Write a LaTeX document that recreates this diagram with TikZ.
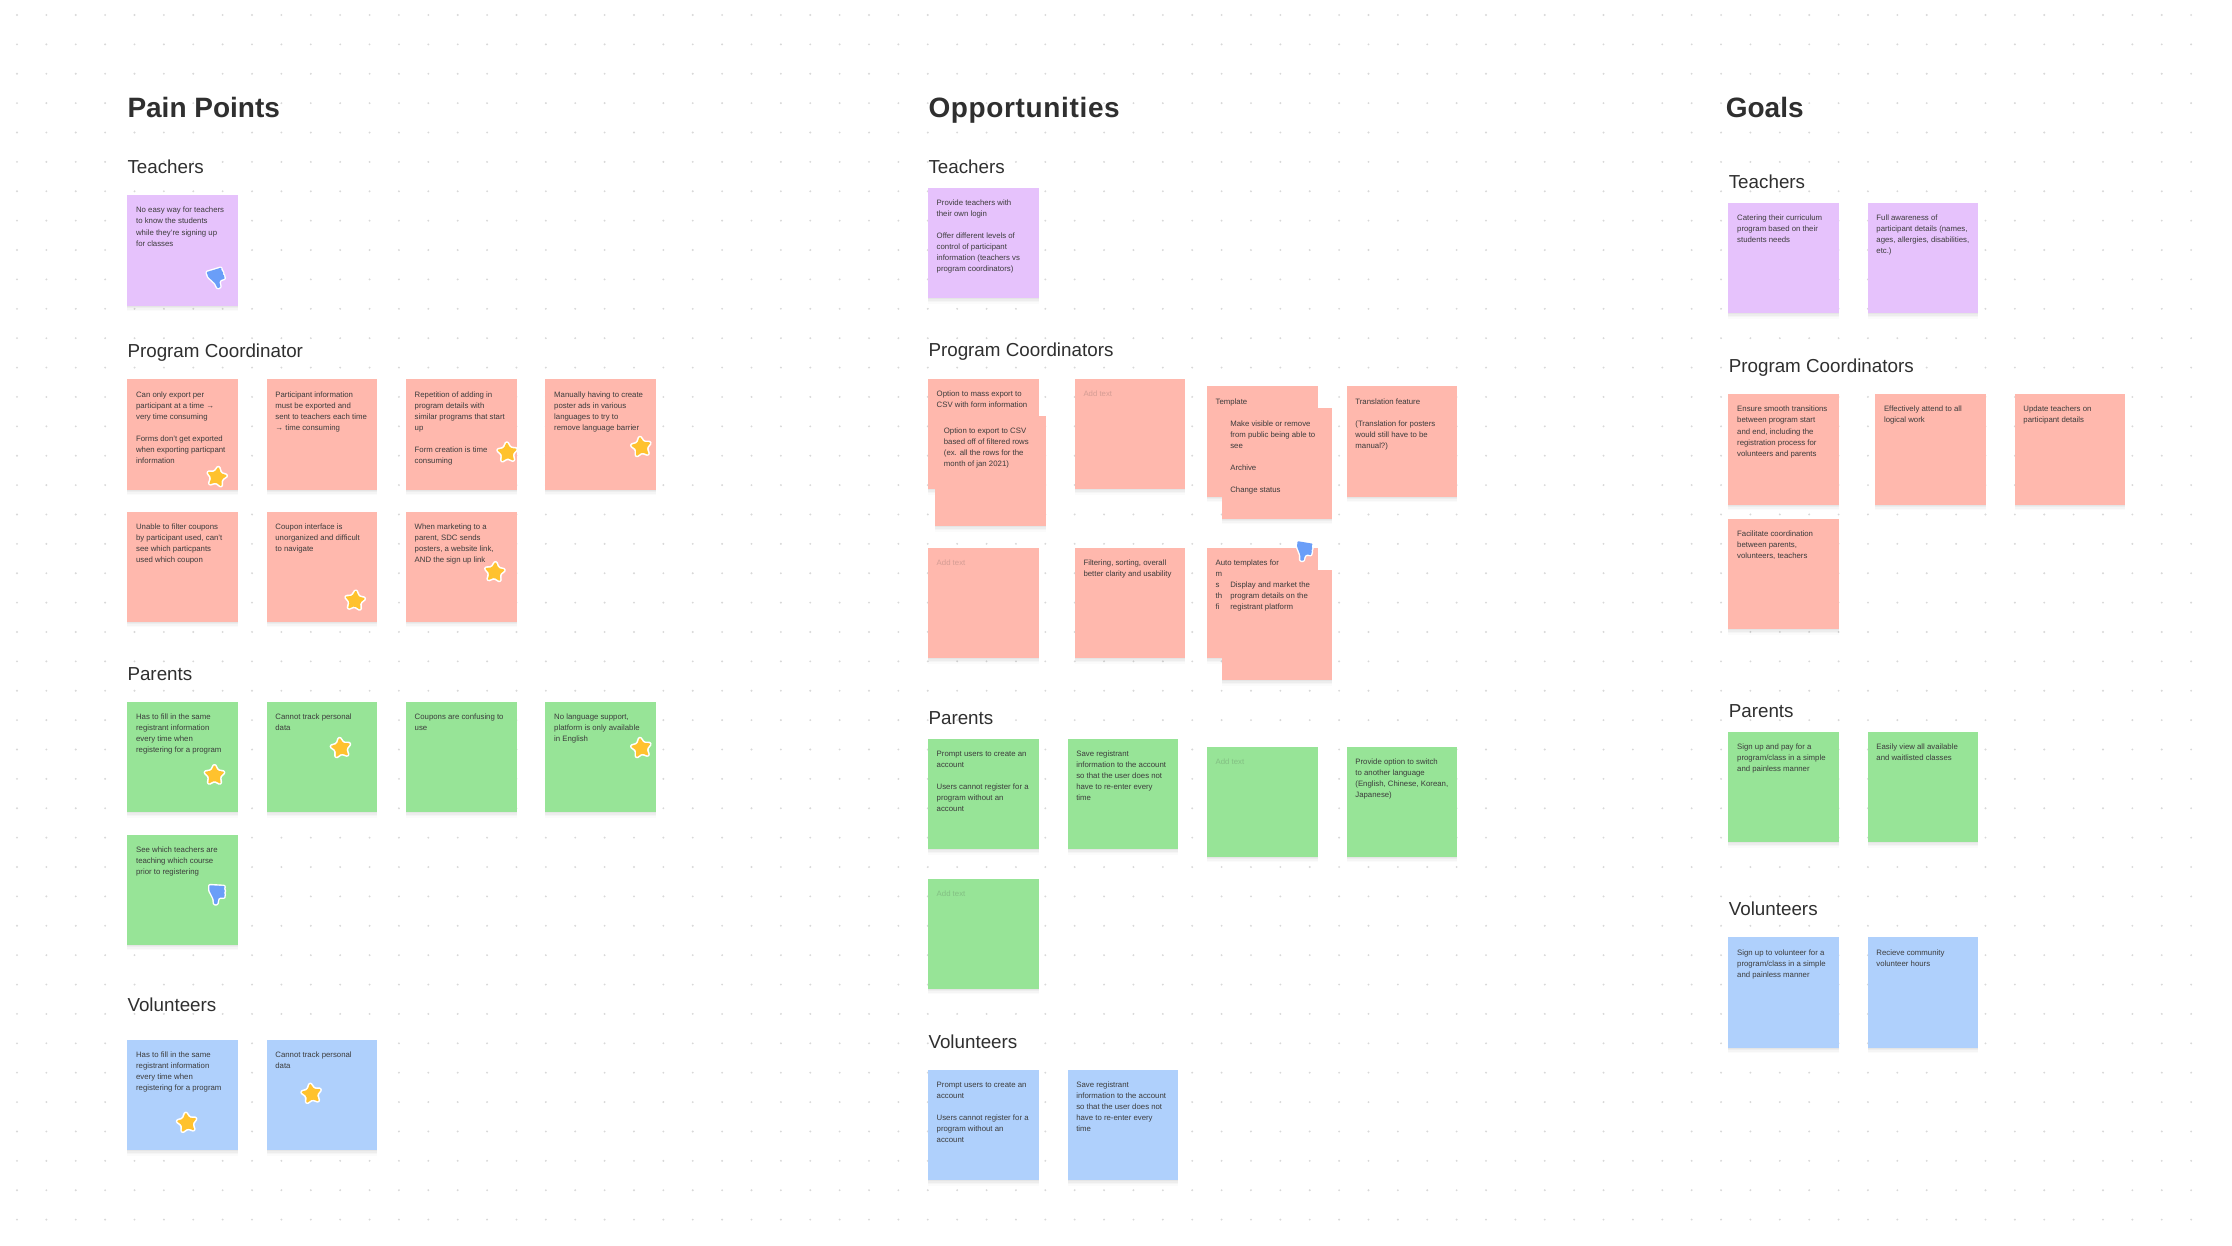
\documentclass[tikz,border=0pt]{standalone}
\usepackage{fontspec}
\setmainfont{Liberation Sans}
\usetikzlibrary{shapes.geometric,shadows}
\definecolor{notepurple}{HTML}{E6C2FC}
\definecolor{notered}{HTML}{FFB8AD}
\definecolor{notegreen}{HTML}{97E497}
\definecolor{noteblue}{HTML}{AFD0FC}
\definecolor{stargold}{HTML}{FFC22E}
\definecolor{thumbblue}{HTML}{6A9EF8}
\definecolor{griddot}{HTML}{D8D8D8}
\definecolor{inkdark}{HTML}{2F2F2F}
\definecolor{inknote}{HTML}{3C3C3C}
\tikzset{
  softshadow/.style={
    general shadow={fill=black,opacity=.03,shadow yshift=-1pt},
    general shadow={fill=black,opacity=.03,shadow yshift=-2.5pt},
    general shadow={fill=black,opacity=.025,shadow yshift=-4pt},
    general shadow={fill=black,opacity=.015,shadow yshift=-5.5pt}},
  note/.style={rectangle,anchor=north west,minimum width=110.7pt,minimum height=110.3pt,inner sep=0pt,outer sep=0pt,softshadow},
  notetext/.style={anchor=north west,inner sep=0pt,outer sep=0pt,align=left,text=inknote,font=\fontsize{7.8}{11.05}\selectfont},
  placeholder/.style={text opacity=.22},
  pagetitle/.style={anchor=base west,inner sep=0pt,text=inkdark,font=\fontsize{28}{32}\selectfont\bfseries},
  grouptitle/.style={anchor=base west,inner sep=0pt,text=inkdark,font=\fontsize{18.8}{22}\selectfont},
  starmark/.style={star,star points=5,star point ratio=1.95,minimum size=21.5pt,inner sep=0pt,fill=stargold,rounded corners=1.3pt,
    preaction={draw=white,line width=3.2pt,line join=round}},
  thumbmark/.pic={
    \path[scale=.88,preaction={draw=white,line width=2.8pt,line join=round},fill=thumbblue,rounded corners=.8pt]
      (-8.4,-10) -- (9,-9) -- (8,-5.5) -- (9.4,-3.5) -- (8,-1) -- (9.4,1) -- (8,2.4) -- (9,4) -- (3,4) -- (1.4,6) -- (0.6,11.5) -- (-3,11.5) -- (-3.6,5.4) -- (-8.4,-4) -- cycle;
  }
}
\newcommand{\sticky}[5]{%
  \node[note,fill=#4] (#1) at (#2,#3) {};
  \node[notetext] (#1t) at ([xshift=8.8pt,yshift=-9.7pt]#1.north west) {\rule{0pt}{8pt}#5};}
\newcommand{\blankline}{\\~\\}
\begin{document}
\begin{tikzpicture}[x=1pt,y=-1pt]
\fill[white] (0,0) rectangle (2232,1245);
\useasboundingbox (0,0) rectangle (2232,1245);
% dot grid
\foreach \i in {0,...,74}{
  \foreach \j in {0,...,41}{
    \fill[griddot] ({17+\i*29.38},{15+\j*29.38}) circle (1.05pt);
  }
}
% ---------- Pain Points
\node[pagetitle] (ppT) at (127.3,117.5) {Pain Points};
\node[grouptitle] (ppA) at (127.3,173.4) {Teachers};
\sticky{pa1}{127.3}{195.2}{notepurple}{No easy way for teachers\\to know the students\\while they're signing up\\for classes}
\node[grouptitle] (ppB) at (127.3,357.4) {Program Coordinator};
\sticky{pb1}{127.3}{379.3}{notered}{Can only export per\\participant at a time →\\very time consuming\blankline Forms don't get exported\\when exporting particpant\\information}
\sticky{pb2}{266.6}{379.3}{notered}{Participant information\\must be exported and\\sent to teachers each time\\→ time consuming}
\sticky{pb3}{405.9}{379.3}{notered}{Repetition of adding in\\program details with\\similar programs that start\\up\blankline Form creation is time\\consuming}
\sticky{pb4}{545.4}{379.3}{notered}{Manually having to create\\poster ads in various\\languages to try to\\remove language barrier}
\sticky{pb5}{127.3}{511.5}{notered}{Unable to filter coupons\\by participant used, can't\\see which particpants\\used which coupon}
\sticky{pb6}{266.6}{511.5}{notered}{Coupon interface is\\unorganized and difficult\\to navigate}
\sticky{pb7}{405.9}{511.5}{notered}{When marketing to a\\parent, SDC sends\\posters, a website link,\\AND the sign up link}
\node[grouptitle] (ppC) at (127.3,680.3) {Parents};
\sticky{pc1}{127.3}{702}{notegreen}{Has to fill in the same\\registrant information\\every time when\\registering for a program}
\sticky{pc2}{266.6}{702}{notegreen}{Cannot track personal\\data}
\sticky{pc3}{405.9}{702}{notegreen}{Coupons are confusing to\\use}
\sticky{pc4}{545.4}{702}{notegreen}{No language support,\\platform is only available\\in English}
\sticky{pc5}{127.3}{834.5}{notegreen}{See which teachers are\\teaching which course\\prior to registering}
\node[grouptitle] (ppD) at (127.3,1011) {Volunteers};
\sticky{pd1}{127.3}{1040}{noteblue}{Has to fill in the same\\registrant information\\every time when\\registering for a program}
\sticky{pd2}{266.6}{1040}{noteblue}{Cannot track personal\\data}
% marks on Pain Points
\node[starmark,rotate=-10] (st1) at (216.8,477) {};
\node[starmark,rotate=3] (st2) at (507.3,452.6) {};
\node[starmark,rotate=8] (st3) at (641.2,447) {};
\node[starmark,rotate=-5] (st4) at (355,600.7) {};
\node[starmark,rotate=-5] (st5) at (494.7,572.2) {};
\node[starmark] (st6) at (214.5,775.2) {};
\node[starmark,rotate=8] (st7) at (340.8,748) {};
\node[starmark,rotate=8] (st8) at (641.2,748) {};
\node[starmark,rotate=8] (st9) at (187,1122.8) {};
\node[starmark,rotate=8] (st10) at (311.5,1093.8) {};
\pic[rotate=20] at (216.5,277.8) {thumbmark};
\pic at (216.8,894) {thumbmark};
% ---------- Opportunities
\node[pagetitle,font=\fontsize{28}{32}\selectfont\bfseries\addfontfeature{LetterSpace=2.3}] (opT) at (928.3,117.5) {Opportunities};
\node[grouptitle] (opA) at (928.3,173.4) {Teachers};
\sticky{oa1}{927.9}{187.7}{notepurple}{Provide teachers with\\their own login\blankline Offer different levels of\\control of participant\\information (teachers vs\\program coordinators)}
\node[grouptitle] (opB) at (928.3,356.7) {Program Coordinators};
\sticky{ob1}{927.9}{379}{notered}{Option to mass export to\\CSV with form information}
\sticky{ob2}{935.1}{415.7}{notered}{Option to export to CSV\\based off of filtered rows\\(ex. all the rows for the\\month of jan 2021)}
\sticky{ob3}{1074.7}{379}{notered}{\tikz[baseline]\node[placeholder,inner sep=0pt,anchor=base west] (ob3p) {Add text};}
\sticky{ob4}{1206.8}{386.3}{notered}{Template}
\sticky{ob5}{1221.5}{408.3}{notered}{Make visible or remove\\from public being able to\\see\blankline Archive\blankline Change status}
\sticky{ob6}{1346.6}{386.3}{notered}{Translation feature\blankline (Translation for posters\\would still have to be\\manual?)}
\sticky{ob7}{927.9}{547.7}{notered}{\tikz[baseline]\node[placeholder,inner sep=0pt,anchor=base west] (ob7p) {Add text};}
\sticky{ob8}{1074.7}{547.7}{notered}{Filtering, sorting, overall\\better clarity and usability}
\sticky{ob9}{1206.8}{547.7}{notered}{Auto templates for\\m\\s\\th\\fi}
\pic[rotate=-6] at (1304,550.7) {thumbmark};
\sticky{ob10}{1221.5}{569.7}{notered}{Display and market the\\program details on the\\registrant platform}
\node[grouptitle] (opC) at (928.3,724.3) {Parents};
\sticky{oc1}{927.9}{739}{notegreen}{Prompt users to create an\\account\blankline Users cannot register for a\\program without an\\account}
\sticky{oc2}{1067.5}{739}{notegreen}{Save registrant\\information to the account\\so that the user does not\\have to re-enter every\\time}
\sticky{oc3}{1206.8}{746.5}{notegreen}{\tikz[baseline]\node[placeholder,inner sep=0pt,anchor=base west] (oc3p) {Add text};}
\sticky{oc4}{1346.6}{746.5}{notegreen}{Provide option to switch\\to another language\\(English, Chinese, Korean,\\Japanese)}
\sticky{oc5}{927.9}{878.5}{notegreen}{\tikz[baseline]\node[placeholder,inner sep=0pt,anchor=base west] (oc5p) {Add text};}
\node[grouptitle] (opD) at (928.3,1048) {Volunteers};
\sticky{od1}{927.9}{1070}{noteblue}{Prompt users to create an\\account\blankline Users cannot register for a\\program without an\\account}
\sticky{od2}{1067.5}{1070}{noteblue}{Save registrant\\information to the account\\so that the user does not\\have to re-enter every\\time}
% ---------- Goals
\node[pagetitle] (glT) at (1725.6,117.5) {Goals};
\node[grouptitle] (glA) at (1728.6,188.8) {Teachers};
\sticky{ga1}{1728.4}{203}{notepurple}{Catering their curriculum\\program based on their\\students needs}
\sticky{ga2}{1867.6}{203}{notepurple}{Full awareness of\\participant details (names,\\ages, allergies, disabilities,\\etc.)}
\node[grouptitle] (glB) at (1728.6,372.5) {Program Coordinators};
\sticky{gb1}{1728.4}{394.2}{notered}{Ensure smooth transitions\\between program start\\and end, including the\\registration process for\\volunteers and parents}
\sticky{gb2}{1875.2}{394.2}{notered}{Effectively attend to all\\logical work}
\sticky{gb3}{2014.6}{394.2}{notered}{Update teachers on\\participant details}
\sticky{gb4}{1728.4}{518.8}{notered}{Facilitate coordination\\between parents,\\volunteers, teachers}
\node[grouptitle] (glC) at (1728.6,717.5) {Parents};
\sticky{gc1}{1728.4}{731.8}{notegreen}{Sign up and pay for a\\program/class in a simple\\and painless manner}
\sticky{gc2}{1867.6}{731.8}{notegreen}{Easily view all available\\and waitlisted classes}
\node[grouptitle] (glD) at (1728.6,915.3) {Volunteers};
\sticky{gd1}{1728.4}{937.3}{noteblue}{Sign up to volunteer for a\\program/class in a simple\\and painless manner}
\sticky{gd2}{1867.6}{937.3}{noteblue}{Recieve community\\volunteer hours}
\end{tikzpicture}
\end{document}
